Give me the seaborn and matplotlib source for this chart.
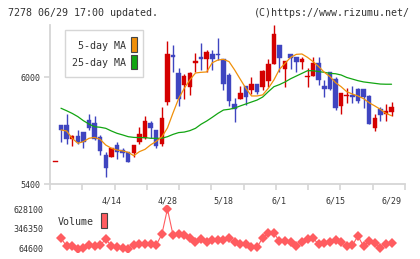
import numpy as np
import pandas as pd
import seaborn as sns
import matplotlib.pyplot as plt
from matplotlib.patches import Rectangle

# daily prices, index 0 = 3/31 (single tick), then 4/1 .. 6/29 (2020)
opens = [5525,
         5730, 5732, 5651, 5670, 5691, 5760, 5741, 5662, 5563, 5550,
         5619, 5591, 5578, 5576, 5638, 5657, 5741, 5704, 5625, 5859,
         6125, 6026, 5957, 5947, 6078, 6112, 6101, 6131, 6131, 6103,
         6013, 5850, 5878, 5951, 5929, 5962, 5947, 5979, 6075, 6182,
         6047, 6131, 6116, 6088, 6000, 6009, 6082, 5951, 6028, 5990,
         5840, 5895, 5900, 5934, 5934, 5895, 5717, 5822, 5796, 5807]
closes = [5525,
          5704, 5651, 5670, 5638, 5638, 5717, 5653, 5588, 5488, 5601,
          5578, 5576, 5526, 5619, 5681, 5754, 5717, 5616, 5771, 6131,
          6112, 5878, 6009, 6022, 6092, 6101, 6144, 6101, 6124, 5960,
          5869, 5820, 5914, 5891, 5962, 5919, 6035, 6075, 6243, 6110,
          6092, 6110, 6084, 6103, 6004, 6082, 5985, 5934, 5934, 5829,
          5910, 5900, 5891, 5869, 5891, 5737, 5771, 5790, 5810, 5833]
highs = [5525,
         5730, 5794, 5676, 5704, 5691, 5792, 5782, 5676, 5582, 5601,
         5638, 5601, 5578, 5619, 5722, 5782, 5756, 5704, 5831, 6206,
         6182, 6054, 6019, 6032, 6135, 6191, 6154, 6154, 6219, 6103,
         6022, 5882, 5951, 5951, 6004, 5962, 6041, 6103, 6294, 6182,
         6092, 6131, 6116, 6116, 6054, 6116, 6116, 5985, 6032, 6004,
         5910, 5938, 5953, 5938, 5934, 5900, 5794, 5831, 5850, 5863]
lows = [5525,
        5638, 5625, 5616, 5625, 5601, 5704, 5647, 5563, 5437, 5550,
        5539, 5554, 5526, 5554, 5625, 5651, 5657, 5601, 5614, 5844,
        6032, 5839, 5878, 5900, 6032, 6041, 6032, 6041, 6097, 5929,
        5839, 5750, 5878, 5844, 5906, 5906, 5929, 5947, 6075, 6032,
        5947, 6047, 6032, 6047, 5947, 6009, 5957, 5891, 5929, 5816,
        5794, 5857, 5857, 5857, 5826, 5737, 5700, 5756, 5756, 5784]
ma5 = [np.nan,
       5704, 5698, 5657, 5629, 5638, 5657, 5662, 5651, 5619, 5601,
       5591, 5586, 5578, 5559, 5582, 5595, 5620, 5640, 5665, 5715,
       5800, 5880, 5938, 5985, 6024, 6028, 6030, 6082, 6097, 6101,
       6088, 6041, 5989, 5938, 5895, 5895, 5901, 5938, 5985, 6045,
       6079, 6112, 6129, 6131, 6112, 6088, 6060, 6028, 6004, 5970,
       5947, 5919, 5906, 5895, 5880, 5857, 5839, 5820, 5797, 5784]
ma25 = [np.nan,
        5826, 5812, 5797, 5779, 5756, 5737, 5722, 5719, 5713, 5698,
        5685, 5676, 5666, 5662, 5661, 5661, 5657, 5657, 5657, 5666,
        5679, 5689, 5692, 5700, 5713, 5736, 5754, 5775, 5797, 5816,
        5820, 5827, 5839, 5850, 5861, 5872, 5889, 5919, 5947, 5959,
        5974, 5992, 6007, 6022, 6037, 6037, 6032, 6028, 6022, 6020,
        6013, 5999, 5990, 5981, 5974, 5970, 5966, 5962, 5961, 5961]
volume = [np.nan,
          212200, 102900, 102900, 64600, 74500, 117100, 102900, 117100, 198000, 102900,
          93000, 70300, 64600, 117100, 135600, 135600, 135600, 117100, 269000, 628100,
          259100, 269000, 259100, 212200, 164000, 202300, 164000, 183800, 183800, 192300,
          212200, 164000, 135600, 127100, 84500, 84500, 220700, 283200, 283200, 173900,
          173900, 155400, 102900, 164000, 202300, 212200, 127100, 149800, 164000, 188100,
          155400, 102900, 112900, 244900, 98700, 173900, 149800, 78800, 135600, 145500]
date_labels = ['4/14', '4/28', '5/18', '6/1', '6/15', '6/29']
date_idx = [10, 20, 30, 40, 50, 60]
price_ticks = [5400, 6000]
vol_ticks = [64600, 346350, 628100]

df = pd.DataFrame({'open': opens, 'close': closes, 'high': highs, 'low': lows,
                   'ma5': ma5, 'ma25': ma25, 'volume': volume})
df['x'] = np.arange(len(df))
up = df['close'] >= df['open']

RED = '#d40000'
BLUE = '#3f45c0'
ORANGE = '#f0900a'
GREEN = '#12a512'
VOLC = '#ff5c60'
GRID = '#d6d6d6'
TXT = '#333333'

sns.set_theme(style='white')
plt.rcParams['font.family'] = ['DejaVu Sans Mono']

fig = plt.figure(figsize=(4.2, 2.59), dpi=100)
ax = fig.add_axes([50/420, 1-184/259, 355/420, 159/259])
axv = fig.add_axes([50/420, 1-252/259, 355/420, 47/259], sharex=ax)

# candles
cols = np.where(up, RED, BLUE)
ax.vlines(df['x'], df['low'], df['high'], colors=cols, lw=1.0, zorder=2)
body = (df['close'] - df['open']).abs().clip(lower=5)
bottom = df[['open', 'close']].min(axis=1)
ax.bar(df['x'], body, bottom=bottom, width=0.8, color=cols,
       edgecolor=cols, linewidth=0.3, zorder=3)

sns.lineplot(data=df, x='x', y='ma25', ax=ax, color=GREEN, lw=0.9, zorder=4)
sns.lineplot(data=df, x='x', y='ma5', ax=ax, color=ORANGE, lw=0.9, zorder=4)

ax.set_xlim(-0.96, 62.4)
ax.set_ylim(5400, 6294)
ax.set_xlabel('')
ax.set_ylabel('')
for s in ['top', 'right']:
    ax.spines[s].set_visible(False)
for s in ['left', 'bottom']:
    ax.spines[s].set_color(GRID)
    ax.spines[s].set_linewidth(1.3)
ax.set_yticks(price_ticks)
ax.set_yticklabels([str(v) for v in price_ticks], fontsize=6, color=TXT)
ax.tick_params(axis='y', length=4, width=1.2, color=GRID, pad=3, left=True)
ax.set_xticks(date_idx)
ax.set_xticklabels(date_labels, fontsize=6, color=TXT)
ax.tick_params(axis='x', which='major', length=0, pad=9)
ax.set_xticks(np.linspace(-0.96, 62.4, 12), minor=True)
ax.tick_params(axis='x', which='minor', length=4, width=1.2, color=GRID,
               bottom=True, direction='out')

# volume
sns.lineplot(data=df, x='x', y='volume', ax=axv, color=VOLC, lw=0.8,
             marker='D', markersize=5, markeredgewidth=0)
axv.set_ylim(17760, 684900)
axv.set_xlabel('')
axv.set_ylabel('')
for s in axv.spines.values():
    s.set_visible(False)
axv.set_yticks(vol_ticks)
axv.set_yticklabels([str(v) for v in vol_ticks], fontsize=6, color=TXT)
axv.tick_params(axis='y', length=0, pad=5)
axv.tick_params(axis='x', which='both', length=0, labelbottom=False)
axv.patch.set_alpha(0)

# legend box
fig.patches.append(Rectangle((65/420, 1-77/259), 78/420, 47/259,
                             transform=fig.transFigure, fc='white',
                             ec=GRID, lw=1.0, zorder=5))
fig.text(126/420, 1-46/259, '5-day MA', ha='right', va='center',
         fontsize=7.2, color=TXT, zorder=6)
fig.text(126/420, 1-63/259, '25-day MA', ha='right', va='center',
         fontsize=7.2, color=TXT, zorder=6)
fig.patches.append(Rectangle((131/420, 1-52/259), 6/420, 15/259,
                             transform=fig.transFigure, fc=ORANGE,
                             ec='#444444', lw=0.8, zorder=6))
fig.patches.append(Rectangle((131/420, 1-69/259), 6/420, 14/259,
                             transform=fig.transFigure, fc=GREEN,
                             ec='#444444', lw=0.8, zorder=6))

fig.text(58/420, 1-222/259, 'Volume', ha='left', va='center',
         fontsize=7.2, color=TXT)
fig.patches.append(Rectangle((101/420, 1-228/259), 6/420, 15/259,
                             transform=fig.transFigure, fc=VOLC,
                             ec='#444444', lw=0.8))

fig.text(8/420, 1-12.5/259, '7278 06/29 17:00 updated.', ha='left',
         va='center', fontsize=7.2, color=TXT)
fig.text(410/420, 1-12.5/259, '(C)https://www.rizumu.net/', ha='right',
         va='center', fontsize=7.2, color=TXT)

fig.savefig('out.png', dpi=100)
